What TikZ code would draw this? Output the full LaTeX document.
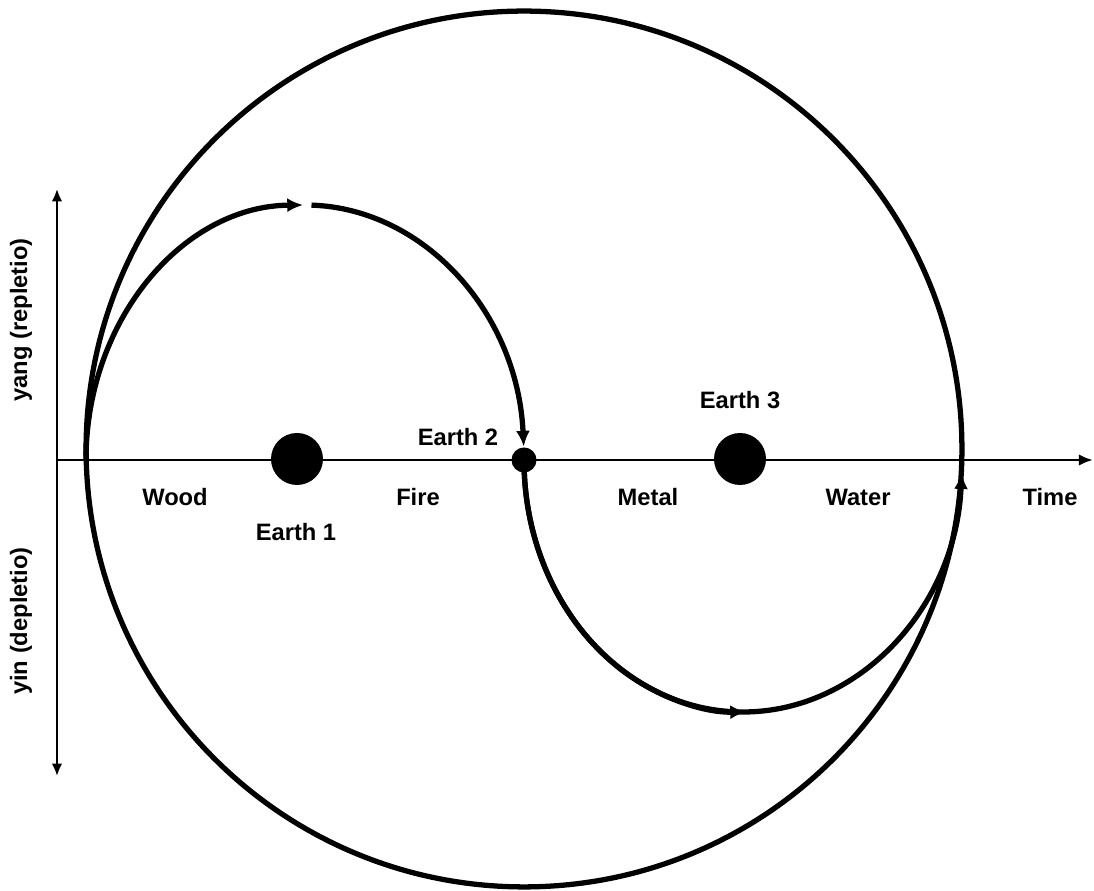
\documentclass[tikz,border=0pt]{standalone}
\usepackage{fontspec}
\setmainfont{Liberation Sans}
\usetikzlibrary{arrows.meta}
\begin{document}
\begin{tikzpicture}[x=0.02cm,y=0.02cm,
  curve/.style={line width=3pt},
  axis/.style={line width=1.6pt},
  tip/.style={-{Latex[length=9pt,width=8pt]}},
  lbl/.style={font=\fontsize{13.5}{16}\selectfont\bfseries, inner sep=0pt},
  dot/.style={circle, fill=black, inner sep=0pt}]
\useasboundingbox (0,0) rectangle (1094,891);
% big circle
\node[circle, draw, line width=3pt, minimum size=17.52cm, inner sep=0pt] (big) at (524,442) {};
% axes
\coordinate (ax0) at (57,431);
\coordinate (ax1) at (1093,431);
\draw[axis, -{Latex[length=8pt,width=6.5pt]}] (ax0) -- (ax1);
\coordinate (vtop) at (57,702);
\coordinate (vbot) at (57,115);
\draw[line width=1.2pt, {Latex[length=7pt,width=6pt]}-{Latex[length=7pt,width=6pt]}] (vbot) -- (vtop);
% dots
\node[dot, minimum size=1.04cm] (e1) at (297,432) {};
\node[dot, minimum size=0.5cm] (e2) at (524,431) {};
\node[dot, minimum size=1.04cm] (e3) at (740,432) {};
% upper curve
\coordinate (s) at (86,431);
\draw[curve, tip] (s) arc[start angle=180, end angle=90.5, x radius=219, y radius=255];
\draw[curve, tip] (305,431) ++(88.3:219 and 255) arc[start angle=88.3, end angle=3, x radius=219, y radius=255];
% lower curve
\draw[curve, tip] (e2.center) arc[start angle=180, end angle=357, x radius=219, y radius=252];
\draw[curve, tip] (e2.center) arc[start angle=180, end angle=270.8, x radius=219, y radius=252];
% labels
\node[lbl] (wood) at (175,394) {Wood};
\node[lbl] (fire) at (418,394) {Fire};
\node[lbl] (metal) at (648,394) {Metal};
\node[lbl] (water) at (858,394) {Water};
\node[lbl] (time) at (1050,394) {Time};
\node[lbl] (l1) at (296,359) {Earth 1};
\node[lbl] (l2) at (458,454) {Earth 2};
\node[lbl] (l3) at (740,491) {Earth 3};
\node[lbl, rotate=90] (yang) at (21,571) {yang (repletio)};
\node[lbl, rotate=90] (yin) at (21,270) {yin (depletio)};
\end{tikzpicture}
\end{document}
